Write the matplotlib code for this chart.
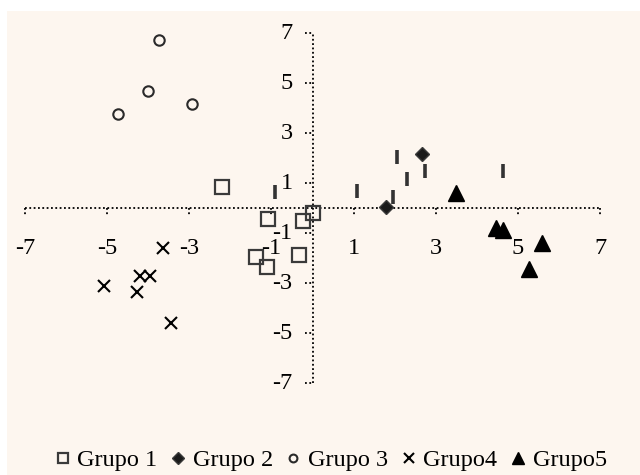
import matplotlib.pyplot as plt
from matplotlib.patches import Rectangle

plt.rcParams['font.family'] = ['Liberation Serif', 'DejaVu Serif']

# ---- data ----
g1_x = [-2.20, -1.08, -0.23, 0.01, -1.37, -1.11, -0.33]
g1_y = [0.84, -0.44, -0.52, -0.20, -1.96, -2.36, -1.88]
g2_x = [2.66, 1.79]
g2_y = [2.16, 0.04]
g3_x = [-3.73, -4.00, -4.73, -2.93]
g3_y = [6.72, 4.68, 3.76, 4.16]
g4_x = [-3.64, -5.07, -4.20, -3.95, -4.27, -3.44]
g4_y = [-1.60, -3.12, -2.72, -2.72, -3.36, -4.60]
g5_x = [3.49, 4.46, 4.64, 5.58, 5.27]
g5_y = [0.60, -0.80, -0.88, -1.40, -2.44]
# extra series drawn with bar markers, not in the legend
bar_x = [2.06, 2.74, 2.30, 1.08, 1.96, 4.64, -0.91]
bar_y = [2.04, 1.48, 1.16, 0.68, 0.44, 1.48, 0.64]

ticks = [-7, -5, -3, -1, 1, 3, 5, 7]
labels = ['Grupo 1', 'Grupo 2', 'Grupo 3', 'Grupo4', 'Grupo5']

W, H = 640, 475
fig = plt.figure(figsize=(W / 100, H / 100), dpi=100)
fig.patches.append(Rectangle((7 / W, 0), 1 - 7 / W, (H - 11) / H,
                             transform=fig.transFigure, facecolor='#fdf6ef',
                             edgecolor='none', zorder=-1))
ax = fig.add_axes([0, 0, 1, 1])
ax.set_facecolor('none')
ax.set_zorder(2)

# pixel mapping: x0 at 312.5px, 41.1 px/unit ; y0 at 208px, 25 px/unit
sx, x0 = 41.1, 312.5
sy, y0 = 25.0, 208.0
ax.set_xlim(-x0 / sx, (W - x0) / sx)
ax.set_ylim(-(H - y0) / sy, y0 / sy)
ax.axis('off')

# axes lines (dotted)
dot = (0, (1, 1.4))
ax.plot([-7, 7], [0, 0], color='black', lw=1.3, ls=dot, zorder=1)
ax.plot([0, 0], [-7, 7], color='black', lw=1.3, ls=dot, zorder=1)
tlx = 8 / sx
tly = 8 / sy
for t in ticks:
    ax.plot([t, t], [0, -tly], color='black', lw=1.3, ls=dot, zorder=1)
    ax.plot([-tlx, 0], [t, t], color='black', lw=1.3, ls=dot, zorder=1)
    ax.text(t, -40 / sy, str(t), ha='center', va='center', fontsize=17.5)
    ax.text(-20 / sx, t, str(t), ha='right', va='center', fontsize=17.5)

ax.plot(g1_x, g1_y, ls='none', marker='s', ms=10, mfc='none', mec='#3a3a3a',
        mew=1.6, label=labels[0], zorder=3)
ax.plot(g2_x, g2_y, ls='none', marker='D', ms=7.5, mfc='#1a1a1a', mec='#3a3a3a',
        mew=1.0, label=labels[1], zorder=3)
ax.plot(g3_x, g3_y, ls='none', marker='o', ms=7.5, mfc='none', mec='#2a2a2a',
        mew=1.5, label=labels[2], zorder=3)
ax.plot(g4_x, g4_y, ls='none', marker='x', ms=9, mec='black', mew=1.5,
        label=labels[3], zorder=3)
ax.plot(g5_x, g5_y, ls='none', marker='^', ms=11, mfc='black', mec='black',
        label=labels[4], zorder=3)
ax.plot(bar_x, bar_y, ls='none', marker='|', ms=10, mec='#333333', mew=2.6,
        label='_nolegend_', zorder=3)

fig.legend(loc='center', bbox_to_anchor=(331 / W, 1 - 460 / H), ncol=5,
           frameon=False, fontsize=17.5, markerscale=0.75, handlelength=0.6,
           handletextpad=0.3, columnspacing=0.55, borderpad=0)

fig.savefig('out.png', dpi=100)
